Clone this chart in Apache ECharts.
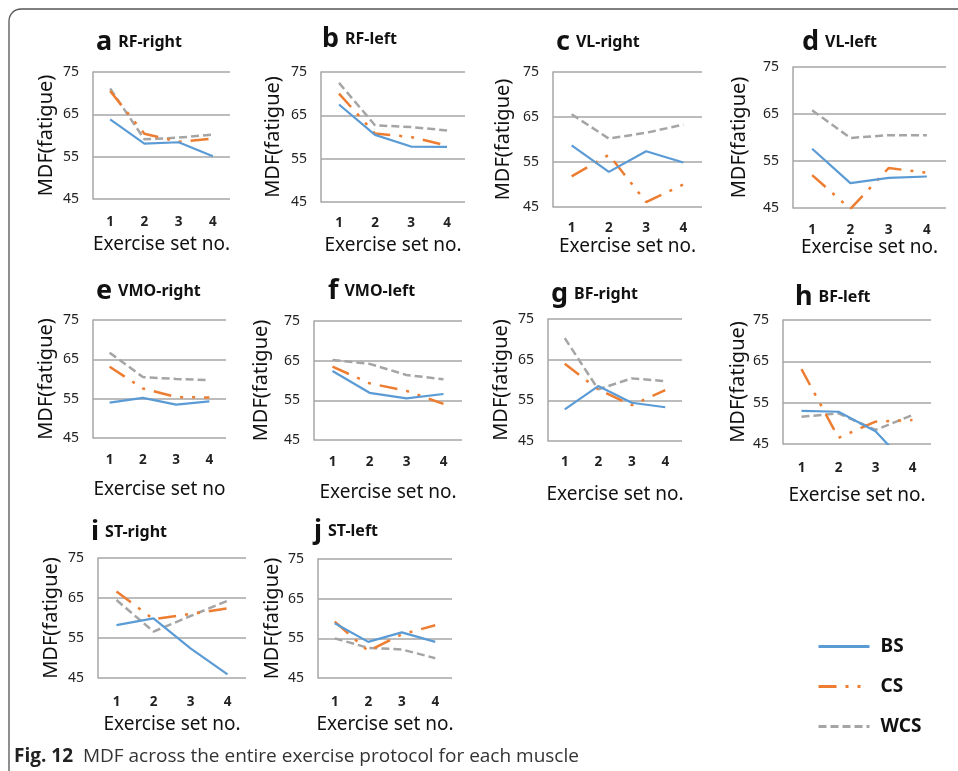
<!DOCTYPE html>
<html>
<head>
<meta charset="utf-8">
<script src="https://cdn.jsdelivr.net/npm/echarts@6/dist/echarts.min.js"></script>
<style>
html,body{margin:0;padding:0;background:#fff;}
#chart{width:958px;height:771px;}
</style>
</head>
<body>
<div id="chart"></div>
<script>
// ---- data ----
const categories = ['1', '2', '3', '4'];
const panelLetters = ['a', 'b', 'c', 'd', 'e', 'f', 'g', 'h', 'i', 'j'];
const panelNames = ['RF-right', 'RF-left', 'VL-right', 'VL-left', 'VMO-right', 'VMO-left', 'BF-right', 'BF-left', 'ST-right', 'ST-left'];
const xAxisNames = ['Exercise set no.', 'Exercise set no.', 'Exercise set no.', 'Exercise set no.', 'Exercise set no', 'Exercise set no.', 'Exercise set no.', 'Exercise set no.', 'Exercise set no.', 'Exercise set no.'];
const yAxisName = 'MDF(fatigue)';
const yTicks = [45, 55, 65, 75];
const seriesNames = ['BS', 'CS', 'WCS'];

const bsValues = [
  [63.8, 58.1, 58.4, 55.1],
  [67.5, 60.5, 57.8, 57.7],
  [58.7, 52.8, 57.4, 54.9],
  [57.6, 50.3, 51.4, 51.7],
  [54.0, 55.2, 53.5, 54.3],
  [62.4, 56.9, 55.5, 56.6],
  [52.8, 58.5, 54.4, 53.3],
  [53.0, 52.8, 48.1, 38.5],
  [58.2, 59.9, 52.4, 45.9],
  [58.8, 54.1, 56.5, 54.1]
];
const csValues = [
  [70.5, 60.4, 58.5, 59.3],
  [70.0, 60.8, 60.0, 58.0],
  [51.8, 56.6, 46.1, 50.0],
  [52.0, 44.8, 53.5, 52.5],
  [63.1, 57.6, 55.4, 55.3],
  [63.5, 59.3, 57.4, 54.1],
  [64.0, 57.7, 53.8, 57.5],
  [63.1, 46.5, 50.4, 50.8],
  [66.6, 59.7, 61.0, 62.4],
  [59.2, 51.8, 56.0, 58.3]
];
const wcsValues = [
  [71.1, 59.1, 59.5, 60.2],
  [72.5, 62.7, 62.3, 61.5],
  [65.6, 60.2, 61.5, 63.3],
  [65.8, 59.9, 60.5, 60.5],
  [66.7, 60.5, 60.0, 59.7],
  [65.2, 64.2, 61.4, 60.3],
  [70.3, 57.7, 60.4, 59.7],
  [51.6, 52.4, 48.4, 52.0],
  [64.5, 56.6, 60.5, 64.3],
  [55.0, 52.6, 52.2, 50.0]
];

// ---- layout (pixels) ----
const gridBoxes = [
  [93, 72, 137, 127],
  [321, 72, 144, 130],
  [553, 72, 149, 135],
  [793, 67, 153, 141],
  [93, 320, 133, 118],
  [314, 321, 148, 119],
  [548, 319, 134, 122],
  [783, 320, 148, 124],
  [98, 558, 148, 120],
  [318, 559, 134, 119]
];
const titlePos = [
  [96, 45], [322, 42], [556, 45], [802, 45],
  [96, 294], [328, 294], [551, 297], [795, 300],
  [91, 535], [314, 534]
];
const yNameGap = [37, 38, 40, 44, 37, 43, 37, 35, 37, 36];
const xNameGap = [36, 34, 30, 29, 42, 43, 44, 42, 37, 37];
const xLabelMargin = [16, 14, 14, 15, 15, 15, 14, 17, 17, 17];

const colors = { BS: '#5B9BD5', CS: '#ED7D31', WCS: '#A5A5A5' };
const lineTypes = { BS: 'solid', CS: [18, 9, 3, 9, 3, 9], WCS: [8, 4] };
const FONT = '"Noto Sans", "DejaVu Sans", sans-serif';

const grids = [], xAxes = [], yAxes = [], series = [], titles = [];
for (let i = 0; i < panelNames.length; i++) {
  const [l, t, w, h] = gridBoxes[i];
  grids.push({ left: l, top: t, width: w, height: h, outerBoundsMode: 'none', containLabel: false });
  xAxes.push({
    gridIndex: i, type: 'category', data: categories, boundaryGap: true,
    axisLine: { show: false }, axisTick: { show: false },
    axisLabel: { fontFamily: FONT, fontSize: 13.5, fontWeight: 'bold', color: '#222', margin: xLabelMargin[i] },
    name: xAxisNames[i], nameLocation: 'middle', nameGap: xNameGap[i],
    nameTextStyle: { fontFamily: FONT, fontSize: 19, color: '#111' }
  });
  yAxes.push({
    gridIndex: i, type: 'value', min: yTicks[0], max: yTicks[yTicks.length - 1], interval: yTicks[1] - yTicks[0],
    axisLine: { show: true, lineStyle: { color: '#A6A6A6', width: 1.5 } },
    axisTick: { show: false },
    splitLine: { show: true, lineStyle: { color: '#A6A6A6', width: 1.5 } },
    axisLabel: { fontFamily: FONT, fontSize: 14, color: '#222', margin: 14 },
    name: yAxisName, nameLocation: 'middle', nameRotate: 90, nameGap: yNameGap[i],
    nameTextStyle: { fontFamily: FONT, fontSize: 20, color: '#111' }
  });
  const vals = { BS: bsValues[i], CS: csValues[i], WCS: wcsValues[i] };
  seriesNames.forEach(n => {
    series.push({
      name: n, type: 'line', xAxisIndex: i, yAxisIndex: i, data: vals[n],
      symbol: 'none', clip: true, silent: true, animation: false,
      lineStyle: { color: colors[n], width: n === 'BS' ? 2.2 : 2.5, type: lineTypes[n] },
      itemStyle: { color: colors[n] },
      z: n === 'BS' ? 3 : (n === 'CS' ? 2 : 1)
    });
  });
  titles.push({
    left: titlePos[i][0], top: titlePos[i][1] - 16, padding: 0,
    text: '{l|' + panelLetters[i] + '}{n|' + panelNames[i] + '}',
    textStyle: {
      rich: {
        l: { fontFamily: FONT, fontSize: 27, fontWeight: 'bold', color: '#111', padding: [0, 6, 0, 0] },
        n: { fontFamily: FONT, fontSize: 16, fontWeight: 'bold', color: '#111' }
      }
    }
  });
}

const chart = echarts.init(document.getElementById('chart'), null, { renderer: 'canvas' });
chart.setOption({
  backgroundColor: '#fff',
  animation: false,
  title: titles,
  grid: grids,
  xAxis: xAxes,
  yAxis: yAxes,
  series: series,
  legend: {
    data: seriesNames, orient: 'vertical', left: 812, top: 632,
    itemWidth: 51, itemHeight: 14, itemGap: 21, selectedMode: false,
    itemStyle: { opacity: 0, borderWidth: 0 },
    lineStyle: { width: 3 },
    textStyle: { fontFamily: FONT, fontSize: 19, fontWeight: 'bold', color: '#111', padding: [0, 0, 0, 6] }
  },
  graphic: [
    {
      type: 'rect', silent: true,
      shape: { x: 9, y: 9, width: 1100, height: 1100, r: 12 },
      style: { fill: 'none', stroke: '#555', lineWidth: 1.3 }
    },
    {
      type: 'text', left: 14, top: 747, silent: true,
      style: {
        text: '{b|Fig. 12}{r|  MDF across the entire exercise protocol for each muscle}',
        rich: {
          b: { fontFamily: '"Open Sans", "Noto Sans", sans-serif', fontSize: 19, fontWeight: 'bold', fill: '#222' },
          r: { fontFamily: '"Open Sans", "Noto Sans", sans-serif', fontSize: 19, fill: '#333' }
        }
      }
    }
  ]
});
</script>
</body>
</html>
